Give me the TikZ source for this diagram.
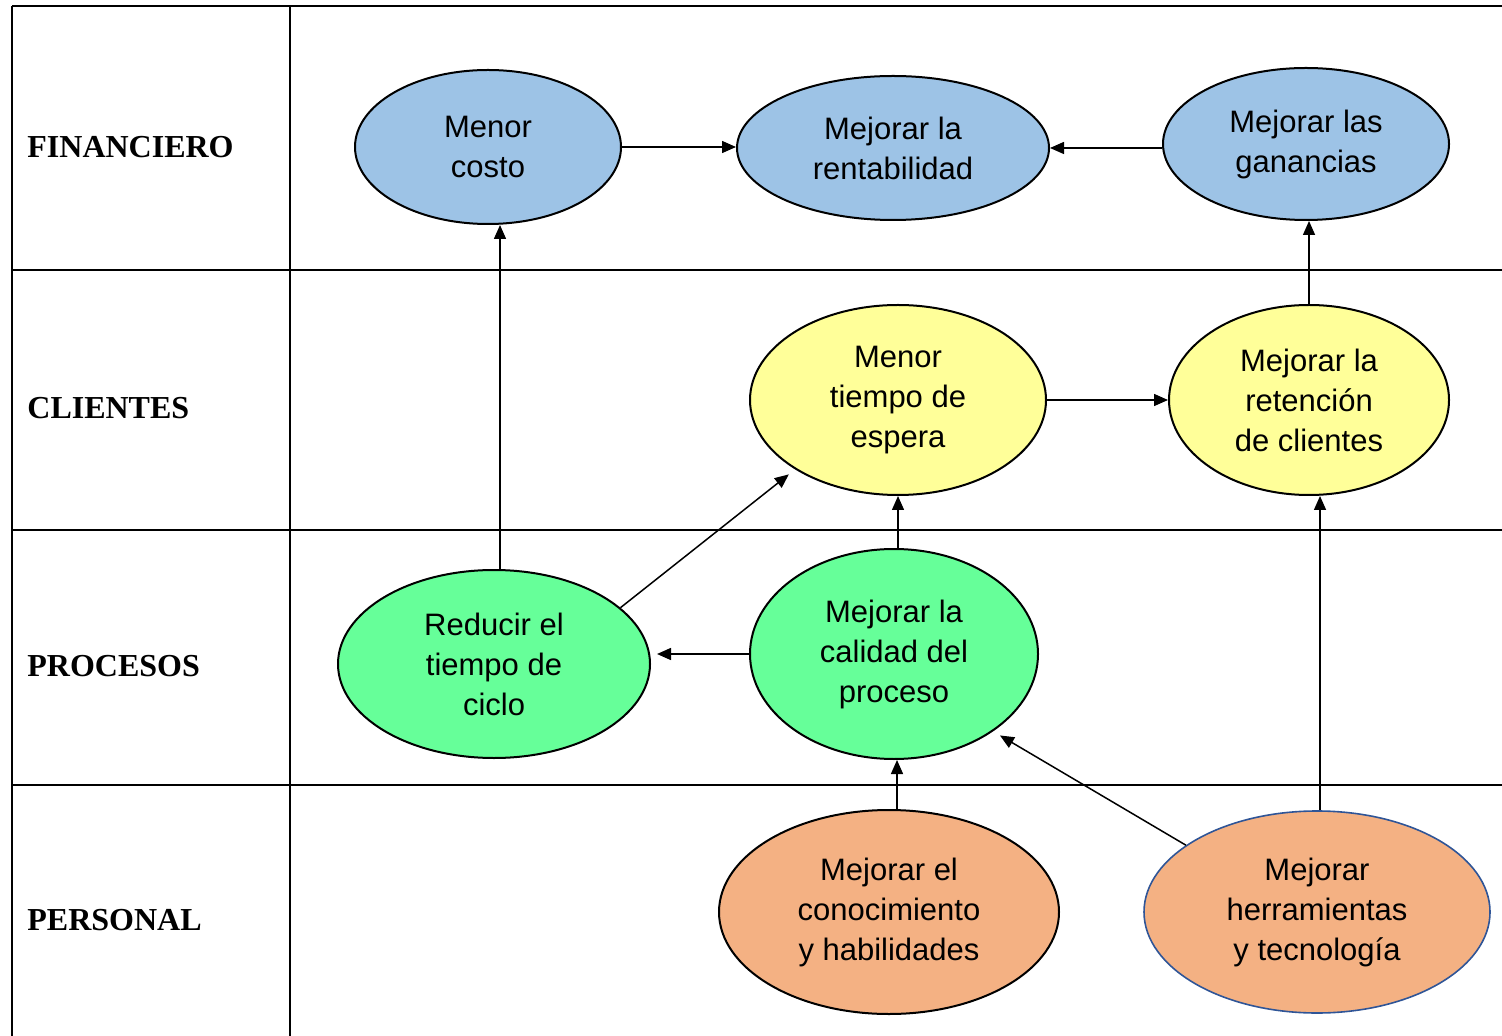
\documentclass[tikz,border=0pt]{standalone}
\usepackage{fontspec}
\setmainfont{Liberation Serif}
\newfontfamily\arialfont{Liberation Sans}
\usetikzlibrary{arrows.meta,shapes.geometric,calc}
\definecolor{finblue}{HTML}{9DC3E6}
\definecolor{cliyellow}{HTML}{FFFF99}
\definecolor{progreen}{HTML}{66FF99}
\definecolor{perorange}{HTML}{F4B183}
\definecolor{edgeblue}{HTML}{2F5597}

\begin{document}
\begin{tikzpicture}[x=0.5pt, y=-0.5pt,
  goal/.style={ellipse, draw, line width=1pt, inner sep=0pt, align=center, font=\arialfont\fontsize{15.5}{20}\selectfont},
  rowlbl/.style={anchor=west, inner sep=0pt, font=\bfseries\fontsize{16}{19}\selectfont},
  arr/.style={-{Triangle[length=7pt, width=6pt]}, line width=0.75pt},
  grid/.style={line width=1pt}
]
\useasboundingbox (0,0) rectangle (1502,1036);

% table
\draw[grid] (12,6) -- (1502,6);
\draw[grid] (12,6) -- (12,1036);
\draw[grid] (290,6) -- (290,1036);
\draw[grid] (12,270) -- (1502,270);
\draw[grid] (12,530) -- (1502,530);
\draw[grid] (12,785) -- (1502,785);

\node[rowlbl] (fin) at (27,147) {FINANCIERO};
\node[rowlbl] (cli) at (27,408) {CLIENTES};
\node[rowlbl] (pro) at (27,666) {PROCESOS};
\node[rowlbl] (per) at (27,920) {PERSONAL};

% financiero
\node[goal, fill=finblue, minimum width=133pt, minimum height=77pt]  (costo) at (488,147)  {Menor\\costo};
\node[goal, fill=finblue, minimum width=156pt, minimum height=72pt]  (rent)  at (893,148)  {Mejorar la\\rentabilidad};
\node[goal, fill=finblue, minimum width=143pt, minimum height=76pt]  (gan)   at (1306,144) {Mejorar las\\ganancias};
% clientes
\node[goal, fill=cliyellow, minimum width=148pt, minimum height=95pt] (espera) at (898,400)  {Menor\\tiempo de\\espera};
\node[goal, fill=cliyellow, minimum width=140pt, minimum height=95pt] (reten)  at (1309,400) {Mejorar la\\retención\\de clientes};
% procesos
\node[goal, fill=progreen, minimum width=156pt, minimum height=94pt]  (ciclo)   at (494,664) {Reducir el\\tiempo de\\ciclo};
\node[goal, fill=progreen, minimum width=144pt, minimum height=105pt] (calidad) at (894,654) {Mejorar la\\calidad del\\proceso};
% personal
\node[goal, fill=perorange, minimum width=170pt, minimum height=102pt] (conoc) at (889,912) {Mejorar el\\conocimiento\\y habilidades};
\node[goal, fill=perorange, draw=edgeblue, line width=0.8pt, minimum width=173pt, minimum height=101pt] (herr) at (1317,912) {Mejorar\\herramientas\\y tecnología};

% relaciones
\draw[arr] (costo.east) -- (costo.east -| rent.west);
\draw[arr] (gan.west |- rent.east) -- (rent.east);
\draw[arr] ([xshift=3pt]ciclo.north) -- ([xshift=3pt]ciclo.north |- costo.south);
\draw[arr, shorten >=4pt] (ciclo.24) -- (espera.214);
\draw[arr, shorten >=3pt] (calidad.west) -- (calidad.west -| ciclo.east);
\draw[arr] ([xshift=2pt]calidad.north) -- ([xshift=2pt]calidad.north |- espera.south);
\draw[arr] (espera.east) -- (reten.west);
\draw[arr] (reten.north) -- (reten.north |- gan.south);
\draw[arr] ([xshift=4pt]conoc.north) -- ([xshift=4pt]conoc.north |- calidad.south);
\draw[arr, shorten >=4pt] (herr.153) -- (calidad.-38);
\draw[arr] ([xshift=1.5pt]herr.north) -- ([xshift=1.5pt]herr.north |- reten.south);
\end{tikzpicture}
\end{document}
